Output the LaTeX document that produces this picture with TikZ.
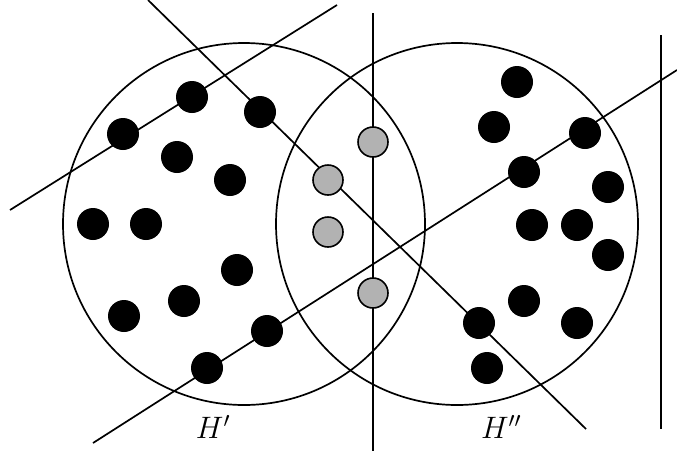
\RequirePackage{fix-cm}
\documentclass[tikz,border=0pt]{standalone}
\begin{document}
\begin{tikzpicture}[x=1pt,y=-1pt,
  ln/.style={line width=1.7pt},
  bdot/.style={circle,fill=black,inner sep=0pt,minimum size=32pt},
  gdot/.style={circle,fill=black!30,draw=black,line width=1.6pt,inner sep=0pt,minimum size=30pt},
  lab/.style={font=\fontsize{31}{31}\selectfont}]
\useasboundingbox (0,0) rectangle (677,459);
% circles
\draw[ln] (244,224) circle (181);
\draw[ln] (457,224) circle (181);
% lines
\coordinate (l1a) at (10,210); \coordinate (l1b) at (337,5);
\coordinate (l2a) at (148,0); \coordinate (l2b) at (586,429);
\coordinate (l3a) at (373,13); \coordinate (l3b) at (373,451);
\coordinate (l4a) at (93,443); \coordinate (l4b) at (677,70);
\coordinate (l5a) at (661,35); \coordinate (l5b) at (661,429);
\draw[ln] (l1a) -- (l1b);
\draw[ln] (l2a) -- (l2b);
\draw[ln] (l3a) -- (l3b);
\draw[ln] (l4a) -- (l4b);
\draw[ln] (l5a) -- (l5b);
% left dots
\node[bdot] (a1) at (123,134) {};
\node[bdot] (a2) at (192,97) {};
\node[bdot] (a3) at (260,112) {};
\node[bdot] (a4) at (177,157) {};
\node[bdot] (a5) at (230,180) {};
\node[bdot] (a6) at (93,224) {};
\node[bdot] (a7) at (146,224) {};
\node[bdot] (a8) at (237,270) {};
\node[bdot] (a9) at (184,301) {};
\node[bdot] (a10) at (124,316) {};
\node[bdot] (a11) at (267,331) {};
\node[bdot] (a12) at (207,368) {};
% gray dots
\node[gdot] (g1) at (373,142) {};
\node[gdot] (g2) at (328,180) {};
\node[gdot] (g3) at (328,232) {};
\node[gdot] (g4) at (373,293) {};
% right dots
\node[bdot] (b1) at (517,82) {};
\node[bdot] (b2) at (494,127) {};
\node[bdot] (b3) at (585,133) {};
\node[bdot] (b4) at (524,172) {};
\node[bdot] (b5) at (608,187) {};
\node[bdot] (b6) at (532,225) {};
\node[bdot] (b7) at (577,225) {};
\node[bdot] (b8) at (608,255) {};
\node[bdot] (b9) at (524,301) {};
\node[bdot] (b10) at (479,323) {};
\node[bdot] (b11) at (577,323) {};
\node[bdot] (b12) at (487,368) {};
% labels
\node[lab] (h1) at (213,427) {$H'$};
\node[lab] (h2) at (501,427) {$H''$};
\end{tikzpicture}
\end{document}
